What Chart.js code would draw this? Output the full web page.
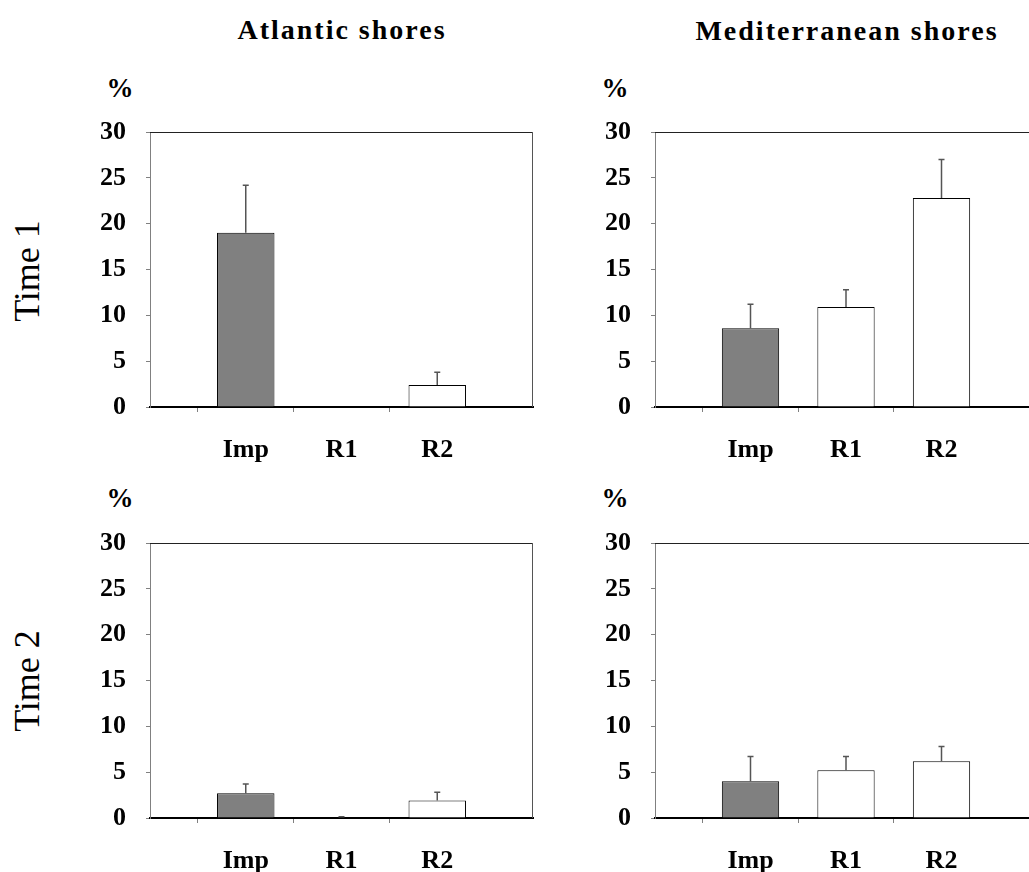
<!DOCTYPE html>
<html>
<head>
<meta charset="utf-8">
<script src="https://cdn.jsdelivr.net/npm/chart.js@4"></script>
<style>
html, body { margin: 0; padding: 0; background: #fff; overflow: hidden; width: 1029px; height: 872px; }
body { position: relative; font-family: "Liberation Serif", "Times New Roman", serif; color: #000; }
.panel { position: absolute; }
.lbl { position: absolute; white-space: nowrap; transform: translate(-50%, -50%); }
.title { font-weight: bold; font-size: 28px; letter-spacing: 2px; }
.pct { font-weight: bold; font-size: 27px; }
.row { font-size: 36px; transform: translate(-50%, -50%) rotate(-90deg); }
</style>
</head>
<body>
<div class="lbl title" style="left:342px;top:30px">Atlantic shores</div>
<div class="lbl title" style="left:847px;top:31px">Mediterranean shores</div>
<div class="lbl pct" style="left:120px;top:88px">%</div>
<div class="lbl pct" style="left:615px;top:88px">%</div>
<div class="lbl pct" style="left:120px;top:498px">%</div>
<div class="lbl pct" style="left:615px;top:498px">%</div>
<div class="lbl row" style="left:27px;top:271px">Time 1</div>
<div class="lbl row" style="left:27px;top:681px">Time 2</div>

<div class="panel" style="left:60px;top:112px"><canvas id="atl1" width="477" height="355"></canvas></div>
<div class="panel" style="left:565px;top:112px"><canvas id="med1" width="476" height="355"></canvas></div>
<div class="panel" style="left:60px;top:523px"><canvas id="atl2" width="477" height="355"></canvas></div>
<div class="panel" style="left:565px;top:523px"><canvas id="med2" width="476" height="355"></canvas></div>

<script>
// categories (empty slots at both ends like the original axis)
const groups = ['Imp', 'R1', 'R2'];
const barColors = ['#808080', '#ffffff', '#ffffff'];

// mean values (%) and error bar size (+SE)
const atlanticTime1 = [19.0, 0, 2.4];
const atlanticTime1Err = [5.2, 0, 1.4];
const medTime1 = [8.6, 10.9, 22.8];
const medTime1Err = [2.6, 1.9, 4.2];
const atlanticTime2 = [2.7, 0.05, 1.9];
const atlanticTime2Err = [1.0, 0.1, 0.9];
const medTime2 = [4.0, 5.2, 6.2];
const medTime2Err = [2.7, 1.5, 1.6];

const yMax = 30;
const yStep = 5;

const errorBars = {
  id: 'errorBars',
  afterDatasetsDraw(chart) {
    const ctx = chart.ctx;
    const y = chart.scales.y;
    const ds = chart.data.datasets[0];
    const meta = chart.getDatasetMeta(0);
    ctx.save();
    ctx.strokeStyle = '#555';
    ctx.lineWidth = 1.5;
    meta.data.forEach((bar, i) => {
      const e = ds.errors[i];
      if (!e) return;
      const top = y.getPixelForValue(ds.data[i] + e);
      ctx.beginPath();
      ctx.moveTo(bar.x, bar.y);
      ctx.lineTo(bar.x, top);
      ctx.moveTo(bar.x - 3, top);
      ctx.lineTo(bar.x + 3, top);
      ctx.stroke();
    });
    ctx.restore();
  }
};

const frame = {
  id: 'frame',
  beforeDatasetsDraw(chart) {
    const ctx = chart.ctx, a = chart.chartArea;
    ctx.save();
    ctx.lineWidth = 1;
    ctx.strokeStyle = '#222';
    ctx.beginPath();
    ctx.moveTo(a.left, a.top + 0.5);
    ctx.lineTo(a.right, a.top + 0.5);
    ctx.stroke();
    ctx.strokeStyle = '#555';
    ctx.beginPath();
    ctx.moveTo(a.right - 0.5, a.top);
    ctx.lineTo(a.right - 0.5, a.bottom);
    ctx.stroke();
    ctx.restore();
  }
};

function pad(arr, fill) {
  return [fill].concat(arr, [fill]);
}

function makePanel(id, values, errors) {
  new Chart(document.getElementById(id).getContext('2d'), {
    type: 'bar',
    data: {
      labels: pad(groups, ''),
      datasets: [{
        data: pad(values, null),
        errors: pad(errors, 0),
        backgroundColor: pad(barColors, '#fff'),
        borderColor: '#000',
        borderWidth: 1,
        barPercentage: 0.6,
        categoryPercentage: 1
      }]
    },
    options: {
      responsive: false,
      animation: false,
      layout: { padding: { top: 20, right: 4, left: 0, bottom: 0 } },
      scales: {
        x: {
          offset: false,
          z: 1,
          afterFit(scale) {
            scale.height = 60;
            scale.paddingLeft = 0;
            scale.paddingRight = 0;
          },
          grid: {
            drawOnChartArea: false,
            tickLength: 5,
            tickColor: (c) => (c.index === 0 || c.index === 4) ? 'rgba(0,0,0,0)' : '#808080'
          },
          border: { color: '#000', width: 2 },
          ticks: {
            autoSkip: false,
            maxRotation: 0,
            padding: 23,
            color: '#000',
            font: { family: 'Liberation Serif', size: 26, weight: 'bold' }
          }
        },
        y: {
          min: 0,
          max: yMax,
          afterFit(scale) {
            scale.width = 90;
            scale.paddingTop = 0;
            scale.paddingBottom = 0;
          },
          grid: { drawOnChartArea: false, tickLength: 4, color: '#808080' },
          border: { color: '#808080', width: 1 },
          ticks: {
            stepSize: yStep,
            padding: 20,
            color: '#000',
            font: { family: 'Liberation Serif', size: 26, weight: 'bold' }
          }
        }
      },
      plugins: {
        legend: { display: false },
        tooltip: { enabled: false }
      }
    },
    plugins: [frame, errorBars]
  });
}

makePanel('atl1', atlanticTime1, atlanticTime1Err);
makePanel('med1', medTime1, medTime1Err);
makePanel('atl2', atlanticTime2, atlanticTime2Err);
makePanel('med2', medTime2, medTime2Err);
</script>
</body>
</html>
